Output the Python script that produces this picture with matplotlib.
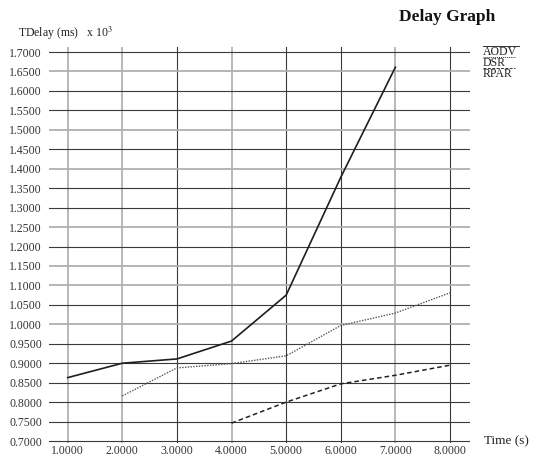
import matplotlib.pyplot as plt
from matplotlib.lines import Line2D
import numpy as np

plt.rcParams["font.family"] = ["Liberation Serif", "DejaVu Serif"]
plt.rcParams["mathtext.fontset"] = "stix"

# delay values in ms (x 10^3) per simulation time
aodv_time = [1, 2, 3, 4, 5, 6, 7]
aodv_delay = [0.863, 0.900, 0.911, 0.957, 1.075, 1.378, 1.661]

dsr_time = [2, 3, 4, 5, 6, 7, 8]
dsr_delay = [0.816, 0.888, 0.899, 0.919, 0.997, 1.029, 1.081]

rpar_time = [4, 5, 6, 7, 8]
rpar_delay = [0.746, 0.800, 0.847, 0.869, 0.895]

x_ticks = [1, 2, 3, 4, 5, 6, 7, 8]
y_ticks = np.round(np.arange(0.70, 1.7001, 0.05), 2)

# grid lines that come out light and wide vs dark and thin
light_x = [1, 2, 4, 7]
light_y = [1.65, 1.50, 1.40, 1.25, 1.15, 1.10, 1.00]

W, H = 533, 459


def px(x, y):
    return x / W, 1 - y / H


fig = plt.figure(figsize=(W / 100, H / 100), dpi=100)
ax = fig.add_axes([49 / W, 16 / H, 421 / W, 396 / H])
ax.set_xlim(0.6576, 8.366)
ax.set_ylim(0.6949, 1.7129)

for x in x_ticks:
    if x in light_x:
        ax.axvline(x, color="#b8b8b8", lw=1.4, zorder=1)
    else:
        ax.axvline(x, color="#3a3a3a", lw=0.8, zorder=1)
for y in y_ticks:
    if any(abs(y - v) < 1e-6 for v in light_y):
        ax.axhline(y, color="#b0b0b0", lw=1.3, zorder=1)
    else:
        ax.axhline(y, color="#3a3a3a", lw=0.8, zorder=1)

ax.plot(aodv_time, aodv_delay, color="#1e1e1e", lw=1.2, zorder=3)
ax.plot(dsr_time, dsr_delay, color="#555555", lw=1.0, linestyle=(0, (1, 1)), zorder=3)
ax.plot(rpar_time, rpar_delay, color="#222222", lw=1.1, linestyle=(0, (3, 2)), zorder=3)

for s in ax.spines.values():
    s.set_visible(False)
ax.set_xticks(x_ticks)
ax.set_xticklabels([f"{v:.4f}" for v in x_ticks])
ax.set_yticks(y_ticks)
ax.set_yticklabels([f"{v:.4f}" for v in y_ticks])
ax.tick_params(axis="x", length=0, pad=1.5, labelsize=8.5, labelcolor="#333333")
ax.tick_params(axis="y", length=0, pad=5, labelsize=8.5, labelcolor="#333333")

fig.text(*px(399, 17), "Delay Graph", fontsize=12.5, fontweight="bold",
         ha="left", va="center", color="#111111")
fig.text(*px(18, 33), r"TDelay (ms)   x 10$^3$", fontsize=8.5,
         ha="left", va="center", color="#222222")
fig.text(*px(484, 441), "Time (s)", fontsize=9.5, ha="left", va="center",
         color="#222222")

# legend: series name with its line style drawn over the text
legend = [("AODV", "-", 52), ("DSR", (0, (1, 1)), 63), ("RPAR", (0, (3, 1.5)), 74)]
for name, ls, yy in legend:
    fig.text(*px(483, yy), name, fontsize=8.5, ha="left", va="center",
             color="#222222")
    x0, y0 = px(483, yy - 6.5)
    x1, _ = px(483 + (36 if name == "AODV" else 32), yy - 6.5)
    fig.add_artist(Line2D([x0, x1], [y0, y0], transform=fig.transFigure,
                          color="#333333", lw=0.7, linestyle=ls))

fig.savefig("out.png", dpi=100)
